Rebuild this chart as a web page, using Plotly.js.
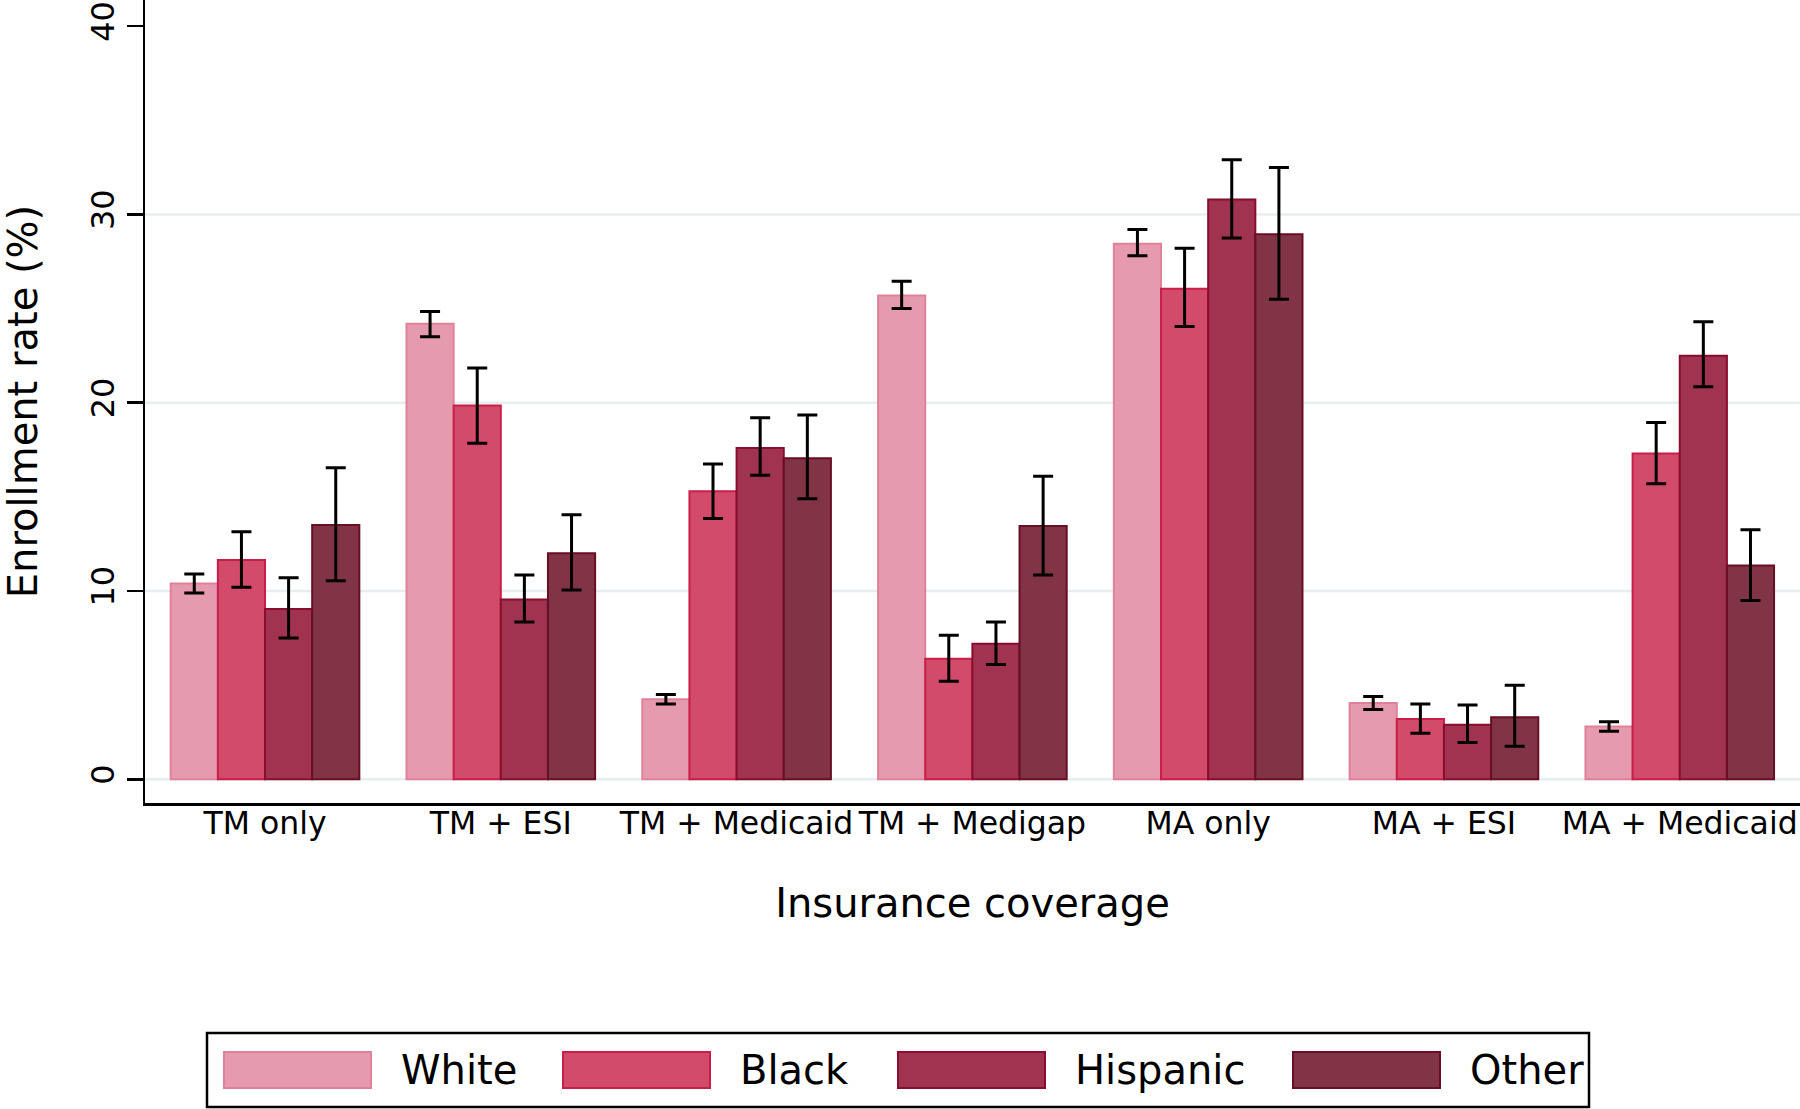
<!DOCTYPE html>
<html>
<head>
<meta charset="utf-8">
<script src="https://cdn.plot.ly/plotly-3.0.1.min.js"></script>
<style>
  html, body { margin: 0; padding: 0; background: #ffffff; }
  #chart { width: 1800px; height: 1109px; }
</style>
</head>
<body>
<div id="chart"></div>
<script>
// ---- Data ----
const categories = ['TM only', 'TM + ESI', 'TM + Medicaid', 'TM + Medigap', 'MA only', 'MA + ESI', 'MA + Medicaid'];
const seriesNames = ['White', 'Black', 'Hispanic', 'Other'];

const white      = [10.4, 24.2, 4.25, 25.7, 28.45, 4.05, 2.8];
const whiteLo    = [9.9, 23.5, 4.0, 25.0, 27.8, 3.7, 2.55];
const whiteHi    = [10.9, 24.85, 4.5, 26.45, 29.2, 4.4, 3.05];

const black      = [11.65, 19.85, 15.3, 6.4, 26.05, 3.2, 17.3];
const blackLo    = [10.2, 17.85, 13.85, 5.2, 24.05, 2.45, 15.7];
const blackHi    = [13.15, 21.85, 16.75, 7.65, 28.2, 4.0, 18.95];

const hispanic   = [9.05, 9.55, 17.6, 7.2, 30.8, 2.9, 22.5];
const hispanicLo = [7.5, 8.35, 16.15, 6.1, 28.75, 1.95, 20.85];
const hispanicHi = [10.7, 10.85, 19.2, 8.35, 32.9, 3.95, 24.3];

const other      = [13.5, 12.0, 17.05, 13.45, 28.95, 3.3, 11.35];
const otherLo    = [10.55, 10.05, 14.9, 10.85, 25.5, 1.75, 9.5];
const otherHi    = [16.55, 14.05, 19.35, 16.1, 32.5, 5.0, 13.25];

const yTickVals = [0, 10, 20, 30, 40];
const gridVals  = [0, 10, 20, 30];

// ---- Styles ----
const fillColors = ['#e69aad', '#d24b6b', '#a0334f', '#823447'];
const lineColors = ['#e0819a', '#c81e47', '#8a0c2e', '#680e25'];
const FONT = 'DejaVu Sans, Verdana, sans-serif';

const values = [white, black, hispanic, other];
const lows   = [whiteLo, blackLo, hispanicLo, otherLo];
const highs  = [whiteHi, blackHi, hispanicHi, otherHi];

const traces = seriesNames.map((name, i) => ({
  type: 'bar',
  name: name,
  x: categories,
  y: values[i],
  marker: { color: fillColors[i], line: { color: lineColors[i], width: 2 } },
  error_y: {
    type: 'data',
    symmetric: false,
    array: values[i].map((v, k) => highs[i][k] - v),
    arrayminus: values[i].map((v, k) => v - lows[i][k]),
    color: '#000000',
    thickness: 3,
    width: 10
  },
  showlegend: false,
  hoverinfo: 'x+y+name'
}));

// ---- Plot geometry (pixels) ----
const W = 1800, H = 1109;
const M = { l: 145, r: 0, t: 0, b: 306 };
const PW = W - M.l - M.r, PH = H - M.t - M.b;
const px2x = px => (px - M.l) / PW;
const px2y = py => (M.t + PH - py) / PH;

const shapes = [];
gridVals.forEach(v => shapes.push({
  type: 'line', xref: 'paper', yref: 'y', x0: 0, x1: 1, y0: v, y1: v,
  line: { color: '#e6efef', width: 2.5 }, layer: 'below'
}));

// Custom legend (large swatches like the reference)
const legendBox = { x0: 207, x1: 1589, y0: 1033, y1: 1107 };
shapes.push({
  type: 'rect', xref: 'paper', yref: 'paper',
  x0: px2x(legendBox.x0), x1: px2x(legendBox.x1),
  y0: px2y(legendBox.y1), y1: px2y(legendBox.y0),
  line: { color: '#000000', width: 2.5 }, fillcolor: 'rgba(0,0,0,0)'
});
const swatchLeft = [224, 563, 898, 1293];
const swatchW = 147, swTop = 1052, swBot = 1088, textGap = 28;
const annotations = [];
seriesNames.forEach((name, i) => {
  shapes.push({
    type: 'rect', xref: 'paper', yref: 'paper',
    x0: px2x(swatchLeft[i]), x1: px2x(swatchLeft[i] + swatchW),
    y0: px2y(swBot), y1: px2y(swTop),
    fillcolor: fillColors[i], line: { color: lineColors[i], width: 2 }
  });
  annotations.push({
    xref: 'paper', yref: 'paper',
    x: px2x(swatchLeft[i] + swatchW + textGap), y: px2y((swTop + swBot) / 2),
    xanchor: 'left', yanchor: 'middle', showarrow: false,
    text: name, font: { family: FONT, size: 40, color: '#000000' }
  });
});

const layout = {
  width: W, height: H,
  margin: M,
  paper_bgcolor: '#ffffff', plot_bgcolor: '#ffffff',
  font: { family: FONT, color: '#000000' },
  barmode: 'group',
  bargap: 0.2,
  bargroupgap: 0,
  showlegend: false,
  xaxis: {
    type: 'category',
    range: [-0.509, 6.51],
    tickangle: 0,
    ticklabelstandoff: -9,
    showline: true, linecolor: '#000000', linewidth: 2.5,
    ticks: '', showgrid: false, zeroline: false,
    tickfont: { family: FONT, size: 31.5, color: '#000000' },
    title: { text: 'Insurance coverage', font: { family: FONT, size: 40, color: '#000000' }, standoff: 49 }
  },
  yaxis: {
    range: [-1.26, 41.39],
    tickvals: yTickVals,
    ticktext: yTickVals.map(String),
    tickangle: -90,
    ticks: 'outside', ticklen: 16, tickwidth: 2.5, tickcolor: '#000000',
    showline: true, linecolor: '#000000', linewidth: 2.5,
    showgrid: false, zeroline: false,
    tickfont: { family: FONT, size: 32, color: '#000000' },
    title: { text: 'Enrollment rate (%)', font: { family: FONT, size: 40, color: '#000000' }, standoff: 46 }
  },
  shapes: shapes,
  annotations: annotations
};

Plotly.newPlot('chart', traces, layout, { displayModeBar: false, staticPlot: true });
</script>
</body>
</html>
